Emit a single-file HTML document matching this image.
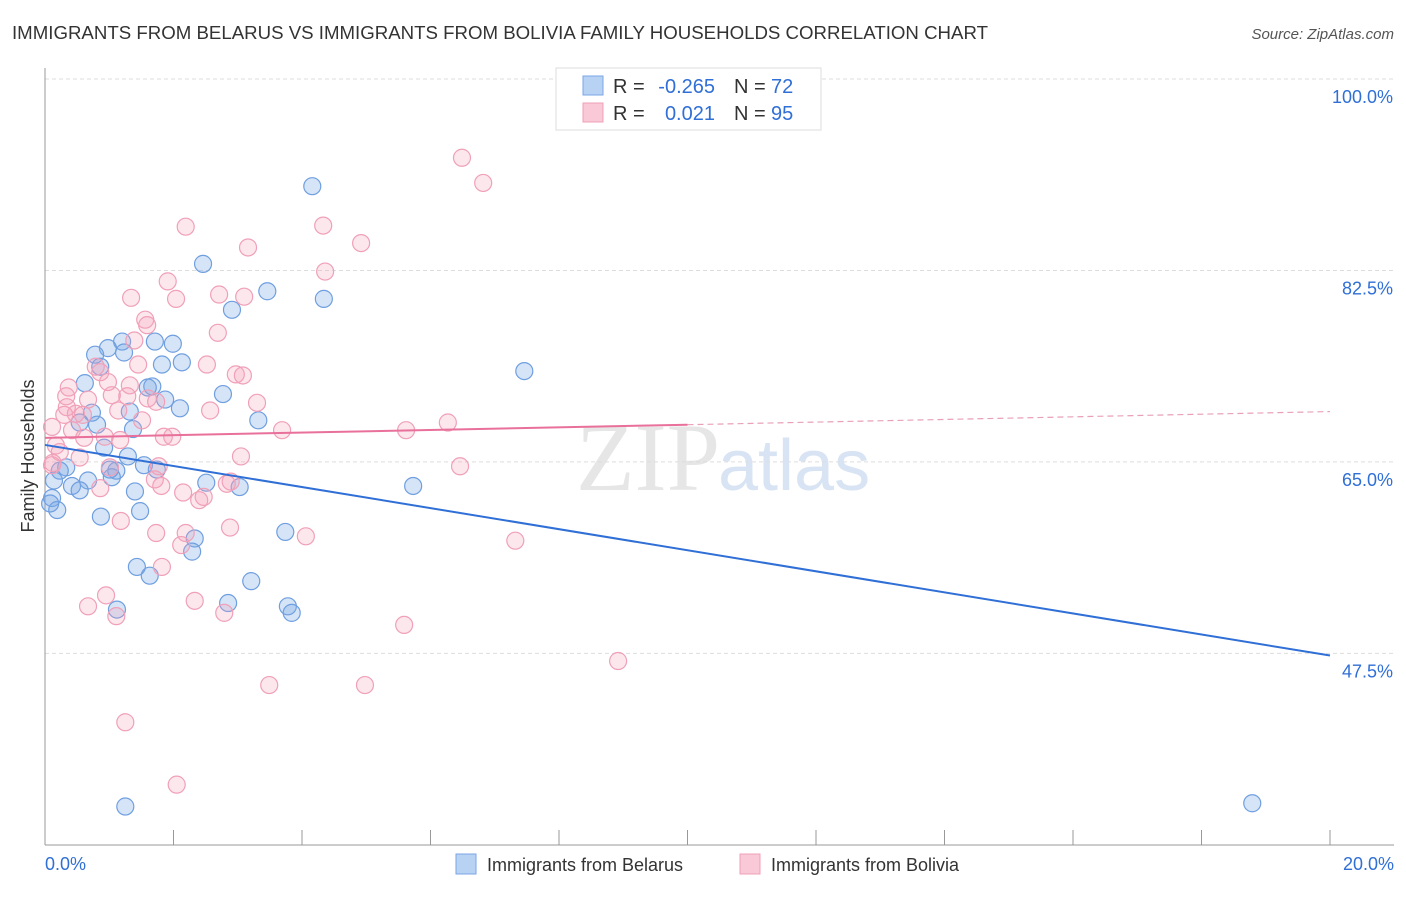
<!DOCTYPE html>
<html><head><meta charset="utf-8">
<style>
body{margin:0;background:#fff;font-family:"Liberation Sans",sans-serif;}
</style></head>
<body>
<svg id="chart" width="1406" height="892" xmlns="http://www.w3.org/2000/svg" font-family="Liberation Sans, sans-serif">
<text x="12" y="39" font-size="18" fill="#333" textLength="976" lengthAdjust="spacingAndGlyphs">IMMIGRANTS FROM BELARUS VS IMMIGRANTS FROM BOLIVIA FAMILY HOUSEHOLDS CORRELATION CHART</text>
<text x="1394" y="39" font-size="15" fill="#555" text-anchor="end" font-style="italic">Source: ZipAtlas.com</text>
<text x="720" y="490" font-size="96" fill="#e6e6e6" text-anchor="end" font-family="Liberation Serif, serif">ZIP</text>
<text x="718" y="490" font-size="72" fill="#d8e4f4">atlas</text>
<g id="grid"></g>
<g id="axes"></g>
<g id="pts"></g>
<g id="lines"></g>
<text transform="translate(34,456) rotate(-90)" font-size="18" fill="#333" text-anchor="middle">Family Households</text>
<g>
<rect x="556" y="68" width="265" height="62" fill="#fff" stroke="#ddd"/>
<rect x="583" y="76" width="20" height="19" fill="#b8d2f4" stroke="#7aa6e4"/>
<rect x="583" y="103" width="20" height="19" fill="#f9c9d7" stroke="#f0a0b8"/>
<text x="613" y="93" font-size="20" fill="#333">R =</text>
<text x="715" y="93" font-size="20" fill="#2f6fd6" text-anchor="end">-0.265</text>
<text x="734" y="93" font-size="20" fill="#333">N =</text>
<text x="771" y="93" font-size="20" fill="#2f6fd6">72</text>
<text x="613" y="120" font-size="20" fill="#333">R =</text>
<text x="715" y="120" font-size="20" fill="#2f6fd6" text-anchor="end">0.021</text>
<text x="734" y="120" font-size="20" fill="#333">N =</text>
<text x="771" y="120" font-size="20" fill="#2f6fd6">95</text>
</g>
<g>
<rect x="456" y="854" width="20" height="20" fill="#b8d2f4" stroke="#7aa6e4"/>
<text x="487" y="871" font-size="18" fill="#333">Immigrants from Belarus</text>
<rect x="740" y="854" width="20" height="20" fill="#f9c9d7" stroke="#f0a0b8"/>
<text x="771" y="871" font-size="18" fill="#333">Immigrants from Bolivia</text>
</g>
</svg>
<script>
const belarusX=[4.16,2.46,3.46,4.34,2.91,1.20,1.71,1.99,0.98,1.23,0.78,2.13,1.82,0.86,7.46,0.62,1.67,1.60,2.77,1.87,2.10,1.32,0.73,3.32,0.54,0.81,1.37,0.92,1.29,1.54,1.74,0.33,0.23,1.11,1.04,0.67,0.42,2.51,3.03,5.73,0.54,1.40,0.11,0.19,0.87,1.48,3.74,2.33,2.29,1.43,1.63,3.21,2.85,3.78,3.84,1.12,1.25,18.79,0.08,0.14,1.01];
const belarusY=[90.2,83.1,80.6,79.9,78.9,76.0,76.0,75.8,75.4,75.0,74.8,74.1,73.9,73.7,73.3,72.2,71.9,71.8,71.2,70.7,69.9,69.6,69.5,68.8,68.6,68.4,68.0,66.3,65.5,64.7,64.3,64.5,64.2,64.2,63.6,63.3,62.8,63.1,62.7,62.8,62.4,62.3,61.7,60.6,60.0,60.5,58.6,58.0,56.8,55.4,54.6,54.1,52.1,51.8,51.2,51.5,33.5,33.8,61.2,63.3,64.3];
const boliviaX=[6.49,6.82,2.19,4.33,3.16,4.92,4.36,1.91,1.34,2.04,3.10,2.71,1.56,1.59,2.69,1.39,2.52,0.79,1.45,0.86,0.98,1.32,2.97,3.08,0.37,0.33,1.73,3.30,1.28,1.60,2.57,0.59,0.48,1.14,0.30,0.67,6.27,5.62,3.69,0.93,1.85,1.98,1.17,0.11,0.17,0.54,3.05,1.77,6.46,0.12,1.01,1.71,2.89,1.81,0.86,2.15,2.47,2.40,2.83,1.18,2.88,4.06,1.73,2.19,2.12,7.32,1.82,0.95,2.33,0.67,1.11,2.79,5.59,8.92,3.49,4.98,1.25,2.05,0.11,0.23,0.42,0.61,0.34,1.04,1.51];
const boliviaY=[92.8,90.5,86.5,86.6,84.6,85.0,82.4,81.5,80.0,79.9,80.1,80.3,78.0,77.5,76.8,76.1,73.9,73.7,73.9,73.2,72.3,72.0,73.0,72.9,71.8,71.0,70.5,70.4,71.0,70.8,69.7,69.3,69.4,69.7,69.3,70.7,68.6,67.9,67.9,67.3,67.3,67.3,67.0,68.2,66.5,65.4,65.5,64.6,64.6,64.9,64.5,63.4,63.2,62.8,62.6,62.2,61.8,61.5,63.0,59.6,59.0,58.2,58.5,58.5,57.4,57.8,55.4,52.8,52.3,51.8,50.9,51.2,50.1,46.8,44.6,44.6,41.2,35.5,64.7,65.9,67.9,67.2,70.0,71.1,68.8];
const belarusTrend=[66.55,47.3];
const boliviaTrend=[67.2,69.6];
const yTicks=[100,82.5,65,47.5];
const yTickLabels=["100.0%","82.5%","65.0%","47.5%"];
const xTicks=[0,2,4,6,8,10,12,14,16,18,20];

const NS="http://www.w3.org/2000/svg";
const xs=v=>45+v*64.25;
const ys=v=>79+(100-v)*10.94;
function mk(tag,attrs,parent){const e=document.createElementNS(NS,tag);for(const k in attrs)e.setAttribute(k,attrs[k]);parent.appendChild(e);return e;}
const grid=document.getElementById('grid'),axes=document.getElementById('axes'),pts=document.getElementById('pts'),lines=document.getElementById('lines');
yTicks.forEach((t,i)=>{
  const l=mk('line',{x1:45,x2:1394,y1:ys(t),y2:ys(t),stroke:'#ddd','stroke-dasharray':'4,3'},grid);
  
  
  const tx=mk('text',{x:1393,y:ys(t)+24,'font-size':18,fill:'#2f6fd6','text-anchor':'end'},axes);
  tx.textContent=yTickLabels[i];
  
  
});
const ya=mk('line',{x1:45,x2:45,y1:68,y2:845,stroke:'#999'},axes);


const xa=mk('line',{x1:45,x2:1394,y1:845,y2:845,stroke:'#999'},axes);


xTicks.forEach(t=>{
  const l=mk('line',{x1:xs(t),x2:xs(t),y1:830,y2:845,stroke:'#999'},axes);
  
  
});
const xl0=mk('text',{x:45,y:870,'font-size':18,fill:'#2f6fd6'},axes);
xl0.textContent=xTicks[0].toFixed(1)+'%';


const xl1=mk('text',{x:1394,y:870,'font-size':18,fill:'#2f6fd6','text-anchor':'end'},axes);
xl1.textContent=xTicks[xTicks.length-1].toFixed(1)+'%';



belarusX.forEach((x,i)=>{
  const c=mk('circle',{cx:xs(x),cy:ys(belarusY[i]),r:8.5,fill:'rgba(120,165,230,0.3)',stroke:'#6f9fe0','stroke-width':1.2},pts);
  
  
});
boliviaX.forEach((x,i)=>{
  const c=mk('circle',{cx:xs(x),cy:ys(boliviaY[i]),r:8.5,fill:'rgba(245,160,185,0.25)',stroke:'#f0a0b8','stroke-width':1.2},pts);
  
  
});
const bl=mk('line',{x1:xs(0),y1:ys(belarusTrend[0]),x2:xs(20),y2:ys(belarusTrend[1]),stroke:'#2f6fd6','stroke-width':2},lines);


const bmid=boliviaTrend[0]+(boliviaTrend[1]-boliviaTrend[0])*0.5;
const pl=mk('line',{x1:xs(0),y1:ys(boliviaTrend[0]),x2:xs(10),y2:ys(bmid),stroke:'#e8709a','stroke-width':2},lines);


const pd=mk('line',{x1:xs(10),y1:ys(bmid),x2:xs(20),y2:ys(boliviaTrend[1]),stroke:'#e8a0b8','stroke-width':1.2,'stroke-dasharray':'6,4'},lines);


</script>
</body></html>
